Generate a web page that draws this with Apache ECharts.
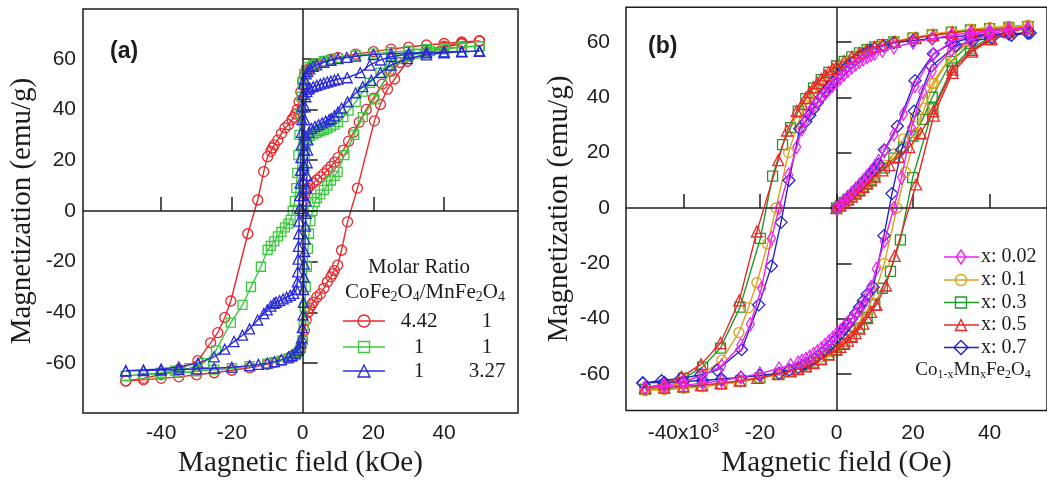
<!DOCTYPE html>
<html>
<head>
<meta charset="utf-8">
<script src="https://cdn.jsdelivr.net/npm/echarts@6.0.0/dist/echarts.min.js"></script>
<style>
html,body{margin:0;padding:0;background:#fff;}
#chart{width:1047px;height:483px;}
</style>
</head>
<body>
<div id="chart"></div>
<script>
// ---------- tick labels ----------
const ticksX = [-40, -20, 0, 20, 40];
const ticksY = [-60, -40, -20, 0, 20, 40, 60];

// ---------- panel (a): field in kOe, magnetization in emu/g ----------
const aRedInit = [[0,0],[0.3,4],[0.6,6.5],[1,8],[1.5,9],[2,9.8],[3,11],[4,12.2],[5,13.4],[6,14.7],[7,16.1],[8,17.6],[9,19.2],[10,21],[11.5,24],[13,27.5],[14.4,31],[16,35],[18,40],[20,44.5],[22.5,50],[25,55],[27.5,58.5],[30,61],[35,63.5],[40,65],[45,66],[50,67]];
const aRedDesc = [[50,67],[45,66.6],[40,66],[35,65.4],[30,64.6],[25,63.8],[20,62.8],[15,61.8],[10,60.5],[8,59.8],[6,59],[4,58],[3,57.2],[2,56.2],[1,55],[0.5,53.5],[0,51],[-0.5,47],[-1,43],[-1.5,40],[-2,38.2],[-2.5,37],[-3,36],[-4,34],[-5,32.7],[-6,30.5],[-7,28],[-8,26],[-8.5,24.8],[-9,23.5],[-9.9,21.4],[-11,15.5],[-12.7,4.3],[-15.5,-9],[-20.3,-35.5],[-22,-42],[-24,-48],[-26,-52],[-29.6,-59],[-35,-62.5],[-40,-64.5],[-45,-66],[-50,-67]];
const aRedAsc = [[-50,-67],[-45,-66.6],[-40,-66],[-35,-65.4],[-30,-64.6],[-25,-63.8],[-20,-62.8],[-15,-61.8],[-10,-60.5],[-8,-59.8],[-6,-59],[-4,-58],[-3,-57.2],[-2,-56.2],[-1,-55],[-0.5,-53.5],[0,-51],[0.5,-47],[1,-43],[1.5,-40],[2,-38.2],[2.5,-37],[3,-36],[4,-34],[5,-32.7],[6,-30.5],[7,-28],[8,-26],[8.5,-24.8],[9,-23.5],[9.9,-21.4],[11,-15.5],[12.7,-4.3],[15.5,9],[20.3,35.5],[22,42],[24,48],[26,52],[29.6,59],[35,62.5],[40,64.5],[45,66],[50,67]];

const aGreenInit = [[0,0],[0.2,8],[0.4,16],[0.6,22],[0.8,26],[1.2,28.5],[2,29.5],[3,30.2],[4,30.8],[5,31.4],[6,32],[7,32.6],[8,33.3],[9,34],[10,35],[11.5,37],[13,39.5],[15,43],[17,47],[19,50.5],[22,54.5],[25,57.5],[30,61],[35,62.8],[40,63.8],[45,64.5],[50,65]];
const aGreenDesc = [[50,65],[45,64.6],[40,64.2],[35,63.8],[30,63.2],[25,62.6],[20,62],[15,61.2],[10,60.2],[8,59.6],[6,59],[4,58.2],[3,57.6],[2,56.8],[1,55.5],[0.5,54],[0,51],[-0.3,45],[-0.6,38],[-0.9,30],[-1.2,22],[-1.5,15],[-1.8,9],[-2.2,4],[-2.8,0],[-3.4,-3.5],[-4,-5],[-5,-6.5],[-6,-8.3],[-7,-10],[-8,-12],[-9,-13.8],[-9.9,-15.4],[-11.8,-22],[-14.6,-30],[-17,-37],[-20.3,-44],[-24.5,-55],[-27.9,-60],[-32,-62],[-36,-63],[-40,-63.8],[-45,-64.5],[-50,-65]];
const aGreenAsc = [[-50,-65],[-45,-64.6],[-40,-64.2],[-35,-63.8],[-30,-63.2],[-25,-62.6],[-20,-62],[-15,-61.2],[-10,-60.2],[-8,-59.6],[-6,-59],[-4,-58.2],[-3,-57.6],[-2,-56.8],[-1,-55.5],[-0.5,-54],[0,-51],[0.3,-45],[0.6,-38],[0.9,-30],[1.2,-22],[1.5,-15],[1.8,-9],[2.2,-4],[2.8,0],[3.4,3.5],[4,5],[5,6.5],[6,8.3],[7,10],[8,12],[9,13.8],[9.9,15.4],[11.8,22],[14.6,30],[17,37],[20.3,44],[24.5,55],[27.9,60],[32,62],[36,63],[40,63.8],[45,64.5],[50,65]];

const aBlueInit = [[0,0],[0.1,6],[0.2,12],[0.3,18],[0.4,24],[0.5,30],[0.6,36],[0.7,41],[0.9,45],[1.2,47],[1.6,48],[2,48.5],[3,49],[4,49.5],[5,50],[6,50.4],[7,50.8],[8,51.2],[9,51.6],[10,52],[12.6,52.5],[16.3,54.5],[19,57.5],[22,59.5],[25,60.8],[30,61.8],[35,62.3],[40,62.6],[45,62.8],[50,63]];
const aBlueDesc = [[50,63],[45,62.9],[40,62.7],[35,62.5],[30,62.3],[25,62],[20,61.6],[15,61],[12.5,60.5],[10,60],[8,59.4],[6,58.6],[4,57.6],[3,57],[2,56],[1.4,55],[1,54],[0.5,52],[0.3,50],[0.1,46],[-0.1,41],[-0.2,36],[-0.3,31],[-0.4,26],[-0.5,21],[-0.6,16],[-0.7,11],[-0.8,6],[-0.9,1],[-1,-4],[-1.1,-9],[-1.2,-14],[-1.3,-19],[-1.4,-24],[-1.5,-28],[-1.8,-31],[-2.5,-32.5],[-3.5,-33.3],[-4.5,-34],[-5.5,-34.7],[-6.5,-35.4],[-7.5,-36],[-8.1,-36.4],[-9,-37.5],[-10,-39],[-11,-40.5],[-12.7,-43],[-15,-46.5],[-17,-49],[-19.4,-51.5],[-22,-54.5],[-25,-57.5],[-29.6,-60],[-35,-61.5],[-40,-62.3],[-45,-62.7],[-50,-63]];
const aBlueAsc = [[-50,-63],[-45,-62.9],[-40,-62.7],[-35,-62.5],[-30,-62.3],[-25,-62],[-20,-61.6],[-15,-61],[-12.5,-60.5],[-10,-60],[-8,-59.4],[-6,-58.6],[-4,-57.6],[-3,-57],[-2,-56],[-1.4,-55],[-1,-54],[-0.5,-52],[-0.3,-50],[-0.1,-46],[0.1,-41],[0.2,-36],[0.3,-31],[0.4,-26],[0.5,-21],[0.6,-16],[0.7,-11],[0.8,-6],[0.9,-1],[1,4],[1.1,9],[1.2,14],[1.3,19],[1.4,24],[1.5,28],[1.8,31],[2.5,32.5],[3.5,33.3],[4.5,34],[5.5,34.7],[6.5,35.4],[7.5,36],[8.1,36.4],[9,37.5],[10,39],[11,40.5],[12.7,43],[15,46.5],[17,49],[19.4,51.5],[22,54.5],[25,57.5],[29.6,60],[35,61.5],[40,62.3],[45,62.7],[50,63]];

// ---------- panel (b): field in 10^3 Oe, magnetization in emu/g ----------
const bMagInit = [[0,0],[1,1.3],[2,2.7],[3,4.1],[4,5.5],[5,7],[6,8.5],[7,10],[8,11.6],[9,13.3],[10,15],[11,17],[12.5,20.6],[15,26.5],[17.5,34],[20.5,44],[25.3,55.5],[30,60],[35,62.5],[40,63.8],[45,64.6],[50,65]];
const bMagDesc = [[50,65],[45,64.6],[40,64],[35,63.3],[30,62.4],[25,61.2],[20,59.8],[15,58],[12,56.8],[10,55.8],[9,55.2],[8,54.5],[7,53.7],[6,52.8],[5,51.8],[4,50.7],[3,49.5],[2,48.2],[1,46.9],[0,45.5],[-1,44.2],[-2,42.8],[-3,41.4],[-4,39.9],[-5,38.3],[-6,36.6],[-7,34.8],[-8,32],[-9,28.5],[-10.4,22],[-12.5,12],[-15,0],[-17,-11],[-19.6,-29],[-22.5,-42],[-25,-49.5],[-30,-57],[-35,-60.5],[-40,-62.8],[-45,-64.2],[-50,-65]];
const bMagAsc = [[-50,-65],[-45,-64.6],[-40,-64],[-35,-63.3],[-30,-62.4],[-25,-61.2],[-20,-59.8],[-15,-58],[-12,-56.8],[-10,-55.8],[-9,-55.2],[-8,-54.5],[-7,-53.7],[-6,-52.8],[-5,-51.8],[-4,-50.7],[-3,-49.5],[-2,-48.2],[-1,-46.9],[0,-45.5],[1,-44.2],[2,-42.8],[3,-41.4],[4,-39.9],[5,-38.3],[6,-36.6],[7,-34.8],[8,-32],[9,-28.5],[10.4,-22],[12.5,-12],[15,0],[17,11],[19.6,29],[22.5,42],[25,49.5],[30,57],[35,60.5],[40,62.8],[45,64.2],[50,65]];

const bOraInit = [[0,0],[1,1],[2,2.1],[3,3.2],[4,4.4],[5,5.6],[6,6.8],[7,8.1],[8,9.4],[9,10.7],[10,12],[12.5,15.5],[15,19.5],[17.5,25],[20.6,33],[25,45],[30,55],[35,60.5],[40,63.5],[45,65],[50,66]];
const bOraDesc = [[50,66],[45,65.7],[40,65.2],[35,64.6],[30,63.8],[25,62.8],[20,61.6],[15,60.2],[12,59],[10,58],[8,56.8],[6,55.4],[4,53.8],[2,52],[0,50],[-2,47.5],[-4,44.5],[-6,41],[-8,37],[-10,31],[-12.5,20],[-15.8,0],[-18,-13],[-20.8,-27],[-23,-36],[-25.5,-45],[-30,-55],[-35,-60],[-40,-63],[-45,-64.8],[-50,-66]];
const bOraAsc = [[-50,-66],[-45,-65.7],[-40,-65.2],[-35,-64.6],[-30,-63.8],[-25,-62.8],[-20,-61.6],[-15,-60.2],[-12,-59],[-10,-58],[-8,-56.8],[-6,-55.4],[-4,-53.8],[-2,-52],[0,-50],[2,-47.5],[4,-44.5],[6,-41],[8,-37],[10,-31],[12.5,-20],[15.8,0],[18,13],[20.8,27],[23,36],[25.5,45],[30,55],[35,60],[40,63],[45,64.8],[50,66]];

const bGrnInit = [[0,0],[1,0.9],[2,2],[3,3.1],[4,4.2],[5,5.3],[6,6.5],[7,7.7],[8,8.9],[9,10.1],[10,11.4],[12.5,14.5],[15,18],[17.5,22],[20,26],[22.5,32],[25,40],[30,53],[35,59.5],[40,63],[45,64.8],[50,65.5]];
const bGrnDesc = [[50,65.5],[45,65.2],[40,64.8],[35,64.3],[30,63.5],[25,62.5],[20,61.4],[15,60],[12,59],[10,58.2],[8,57.2],[6,56],[4,54.6],[2,53],[0,51.3],[-2,49],[-4,46.4],[-6,43.4],[-8,39.5],[-10,35],[-12,29],[-14.1,22.9],[-16.7,11.5],[-19.9,-11],[-25.2,-35.8],[-30.3,-50.6],[-35,-57.5],[-40,-61.5],[-45,-64],[-50,-65.5]];
const bGrnAsc = [[-50,-65.5],[-45,-65.2],[-40,-64.8],[-35,-64.3],[-30,-63.5],[-25,-62.5],[-20,-61.4],[-15,-60],[-12,-59],[-10,-58.2],[-8,-57.2],[-6,-56],[-4,-54.6],[-2,-53],[0,-51.3],[2,-49],[4,-46.4],[6,-43.4],[8,-39.5],[10,-35],[12,-29],[14.1,-22.9],[16.7,-11.5],[19.9,11],[25.2,35.8],[30.3,50.6],[35,57.5],[40,61.5],[45,64],[50,65.5]];

const bRedInit = [[0,0],[1,0.9],[2,1.9],[3,3],[4,4.1],[5,5.2],[6,6.4],[7,7.6],[8,8.8],[9,10],[10,11.3],[12,13.6],[13.8,15.5],[16.3,18.5],[19,22],[22,27],[25.3,35],[30.3,50],[35.4,57],[40,61],[45,63.5],[50,65]];
const bRedDesc = [[50,65],[45,64.8],[40,64.4],[35.4,64],[30.3,63.3],[25.3,62.4],[20.7,61.4],[15.3,60],[12,59],[10,58.2],[8,57.2],[6,56],[4,54.6],[2,53],[0,51.2],[-1,50.2],[-2,49.1],[-3,47.9],[-4,46.6],[-5,45.2],[-6,43.6],[-7,41.8],[-8,39.8],[-9,37.5],[-10.4,35],[-12.9,28],[-15.2,17.3],[-20.8,-8.5],[-25.4,-33.4],[-30.3,-48.8],[-35.4,-56.5],[-40.5,-61],[-45,-63.5],[-50,-65]];
const bRedAsc = [[-50,-65],[-45,-64.8],[-40,-64.4],[-35.4,-64],[-30.3,-63.3],[-25.3,-62.4],[-20.7,-61.4],[-15.3,-60],[-12,-59],[-10,-58.2],[-8,-57.2],[-6,-56],[-4,-54.6],[-2,-53],[0,-51.2],[1,-50.2],[2,-49.1],[3,-47.9],[4,-46.6],[5,-45.2],[6,-43.6],[7,-41.8],[8,-39.8],[9,-37.5],[10.4,-35],[12.9,-28],[15.2,-17.3],[20.8,8.5],[25.4,33.4],[30.3,48.8],[35.4,56.5],[40.5,61],[45,63.5],[50,65]];

const bBluInit = [[0,0],[1,1.2],[2,2.5],[3,3.8],[4,5.1],[5,6.5],[6,7.9],[7,9.3],[8,10.8],[9,12.3],[10,13.8],[11,15.8],[12.5,21],[15.9,29.5],[20.5,46],[25.3,55.7],[30,59.5],[35,61.5],[40,62.4],[45,62.9],[50,63.2]];
const bBluDesc = [[50,63.2],[45,63],[40,62.7],[35,62.3],[30,61.8],[25,61.2],[20,60.5],[15,59.7],[12.3,58.5],[10,57.6],[9,57],[8,56.3],[7,55.5],[6,54.6],[5,53.6],[4,52.5],[3,51.3],[2,50],[1,48.6],[0,47.1],[-1,45.5],[-2,43.8],[-3,42],[-4,40],[-5,38],[-6,35.8],[-7,33.5],[-8,31.2],[-9.6,28.6],[-12.4,10],[-14.5,-5.2],[-17,-21],[-20.3,-35],[-24.8,-51.2],[-31.2,-58.6],[-35.5,-60.3],[-40.6,-61.5],[-45.7,-62.4],[-50.6,-63.2]];
const bBluAsc = [[-50.6,-63.2],[-45,-63],[-40,-62.7],[-35,-62.3],[-30,-61.8],[-25,-61.2],[-20,-60.5],[-15,-59.7],[-12.3,-58.5],[-10,-57.6],[-9,-57],[-8,-56.3],[-7,-55.5],[-6,-54.6],[-5,-53.6],[-4,-52.5],[-3,-51.3],[-2,-50],[-1,-48.6],[0,-47.1],[1,-45.5],[2,-43.8],[3,-42],[4,-40],[5,-38],[6,-35.8],[7,-33.5],[8,-31.2],[9.6,-28.6],[12.4,-10],[14.5,5.2],[17,21],[20.3,35],[24.8,51.2],[31.2,58.6],[35.5,60.3],[40.6,61.5],[45.7,62.4],[50.6,63.2]];

// ---------- legend texts ----------
const aLegendRows = [['4.42', '1'], ['1', '1'], ['1', '3.27']];
const bLegendRows = ['x: 0.02', 'x: 0.1', 'x: 0.3', 'x: 0.5', 'x: 0.7'];

// ---------- styles ----------
const SANS = 'Liberation Sans, Arial, sans-serif';
const SERIF = 'Liberation Serif, Times New Roman, serif';
const INK = '#1c1c1c';
const C = {
  aRed: '#e8282c', aGreen: '#3cc83c', aBlue: '#2a2ad8',
  bMag: '#ee22ee', bOra: '#d9a21c', bGrn: '#1f9a2a', bRed: '#e82828', bBlu: '#2323cc'
};

function ser(name, parts, color, symbol, size, idx, z) {
  return {
    type: 'line', name: name, xAxisIndex: idx, yAxisIndex: idx,
    data: [].concat(...parts), symbol: symbol, symbolSize: size,
    showSymbol: true, showAllSymbol: true, z: z, animation: false,
    lineStyle: { color: color, width: 1.4 },
    itemStyle: { color: 'rgba(255,255,255,0)', borderColor: color, borderWidth: 1.3 },
    emphasis: { disabled: true }
  };
}
function zeroLines(idx) {
  return {
    type: 'line', xAxisIndex: idx, yAxisIndex: idx, data: [[0, 0]], symbol: 'none',
    lineStyle: { width: 0 }, z: 1, animation: false, silent: true,
    markLine: {
      silent: true, symbol: ['none', 'none'], label: { show: false }, animation: false,
      lineStyle: { color: INK, width: 1.5, type: 'solid' },
      emphasis: { disabled: true },
      data: [{ xAxis: 0 }, { yAxis: 0 }]
    }
  };
}
function xAx(idx, min, max, title, margin, gap, fmtRich) {
  return {
    type: 'value', gridIndex: idx, min: min, max: max,
    axisLine: { show: false }, splitLine: { show: false },
    axisTick: { show: true, inside: true, length: 14, lineStyle: { color: INK, width: 1.5 }, customValues: ticksX },
    axisLabel: {
      customValues: ticksX, margin: margin, color: INK, fontFamily: SANS, fontSize: 21,
      formatter: fmtRich ? function (v) { return v === -40 ? '{n|-40x10}{p|3}' : '{n|' + v + '}'; } : function (v) { return String(v); },
      rich: { n: { fontFamily: SANS, fontSize: 21, color: INK, lineHeight: 24 }, p: { fontFamily: SANS, fontSize: 13, color: INK, lineHeight: 12, verticalAlign: 'top' } }
    },
    name: title, nameLocation: 'middle', nameGap: gap,
    nameTextStyle: { fontFamily: SERIF, fontSize: 29, color: INK }
  };
}
function yAx(idx, min, max, margin, gap) {
  return {
    type: 'value', gridIndex: idx, min: min, max: max,
    axisLine: { show: false }, splitLine: { show: false },
    axisTick: { show: true, inside: true, length: 15, lineStyle: { color: INK, width: 1.5 }, customValues: ticksY },
    axisLabel: { customValues: ticksY, margin: margin, color: INK, fontFamily: SANS, fontSize: 21 },
    name: 'Magnetization (emu/g)', nameLocation: 'middle', nameGap: gap,
    nameTextStyle: { fontFamily: SERIF, fontSize: 29, color: INK }
  };
}

// ---------- legend graphics ----------
function markerShape(kind, cx, cy, color, s) {
  const st = { stroke: color, fill: 'none', lineWidth: 1.4 };
  if (kind === 'circle') return { type: 'circle', shape: { cx: cx, cy: cy, r: s / 2 }, style: st };
  if (kind === 'rect') return { type: 'rect', shape: { x: cx - s / 2, y: cy - s / 2, width: s, height: s }, style: st };
  if (kind === 'triangle') return { type: 'polygon', shape: { points: [[cx, cy - s / 2], [cx + s / 2, cy + s / 2], [cx - s / 2, cy + s / 2]] }, style: st };
  if (kind === 'diamond') return { type: 'polygon', shape: { points: [[cx, cy - s / 2], [cx + s / 2, cy], [cx, cy + s / 2], [cx - s / 2, cy]] }, style: st };
  if (kind === 'thin') return { type: 'polygon', shape: { points: [[cx, cy - s / 2], [cx + s / 3, cy], [cx, cy + s / 2], [cx - s / 3, cy]] }, style: st };
}
const g = [];
function txt(t, x, y, font, align, rich) {
  const o = { type: 'text', x: x, y: y, silent: true, style: { text: t, font: font, fill: INK, align: align || 'center', verticalAlign: 'middle' } };
  if (rich) o.style.rich = rich;
  return o;
}
g.push(txt('(a)', 110, 52, 'bold 23px ' + SANS, 'left'));
g.push(txt('(b)', 648, 47, 'bold 23px ' + SANS, 'left'));
g.push(txt('Molar Ratio', 419, 267, '21px ' + SERIF));
const subA = { s: { fontFamily: SERIF, fontSize: 14, fill: INK, color: INK, lineHeight: 12, verticalAlign: 'bottom' } };
g.push({ type: 'text', x: 425, y: 292, silent: true, style: { text: 'CoFe{s|2}O{s|4}/MnFe{s|2}O{s|4}', font: '21px ' + SERIF, fill: INK, align: 'center', verticalAlign: 'middle', lineHeight: 24, rich: subA } });
const aCols = [C.aRed, C.aGreen, C.aBlue], aSym = ['circle', 'rect', 'triangle'], aRowY = [321, 347, 371];
aLegendRows.forEach(function (r, i) {
  g.push({ type: 'line', shape: { x1: 343, y1: aRowY[i], x2: 385, y2: aRowY[i] }, style: { stroke: aCols[i], lineWidth: 1.5 } });
  g.push(markerShape(aSym[i], 364, aRowY[i], aCols[i], i === 1 ? 11 : 12));
  g.push(txt(r[0], 419, aRowY[i], '21px ' + SERIF));
  g.push(txt(r[1], 487, aRowY[i], '21px ' + SERIF));
});
const bCols = [C.bMag, C.bOra, C.bGrn, C.bRed, C.bBlu], bSym = ['thin', 'circle', 'rect', 'triangle', 'diamond'], bRowY = [257, 280, 302.5, 325, 347.5];
bLegendRows.forEach(function (r, i) {
  g.push({ type: 'line', shape: { x1: 944, y1: bRowY[i], x2: 979, y2: bRowY[i] }, style: { stroke: bCols[i], lineWidth: 1.5 } });
  g.push(markerShape(bSym[i], 961, bRowY[i], bCols[i], i === 0 ? 14 : (i === 4 ? 14 : 11)));
  g.push(txt(r, 981, bRowY[i], '20px ' + SERIF, 'left'));
});
const subB = { s: { fontFamily: SERIF, fontSize: 12, fill: INK, color: INK, lineHeight: 10, verticalAlign: 'bottom' } };
g.push({ type: 'text', x: 973, y: 370, silent: true, style: { text: 'Co{s|1-x}Mn{s|x}Fe{s|2}O{s|4}', font: '19px ' + SERIF, fill: INK, align: 'center', verticalAlign: 'middle', lineHeight: 22, rich: subB } });

const option = {
  backgroundColor: '#ffffff',
  animation: false,
  grid: [
    { left: 83, top: 9, width: 435, height: 404.3, show: true, borderColor: INK, borderWidth: 1.5, backgroundColor: 'transparent' },
    { left: 626, top: 7.3, width: 431, height: 409.4, show: true, borderColor: INK, borderWidth: 1.5, backgroundColor: 'transparent' }
  ],
  xAxis: [
    xAx(0, -62.1, 60.9, 'Magnetic field (kOe)', 10, 33, false),
    xAx(1, -55, 55, 'Magnetic field (Oe)', 11, 29, true)
  ],
  yAxis: [
    yAx(0, -79.7, 79.6, 7, 46),
    yAx(1, -73.2, 72.5, 16, 52)
  ],
  series: [
    zeroLines(0), zeroLines(1),
    ser('4.42 : 1', [aRedInit, aRedDesc, aRedAsc], C.aRed, 'circle', 10, 0, 2),
    ser('1 : 1', [aGreenInit, aGreenDesc, aGreenAsc], C.aGreen, 'rect', 9, 0, 3),
    ser('1 : 3.27', [aBlueInit, aBlueDesc, aBlueAsc], C.aBlue, 'triangle', 10, 0, 4),
    ser('x: 0.3', [bGrnInit, bGrnDesc, bGrnAsc], C.bGrn, 'rect', 10, 1, 2),
    ser('x: 0.1', [bOraInit, bOraDesc, bOraAsc], C.bOra, 'circle', 10, 1, 3),
    ser('x: 0.7', [bBluInit, bBluDesc, bBluAsc], C.bBlu, 'diamond', 12, 1, 4),
    ser('x: 0.5', [bRedInit, bRedDesc, bRedAsc], C.bRed, 'triangle', 11, 1, 5),
    ser('x: 0.02', [bMagInit, bMagDesc, bMagAsc], C.bMag, 'diamond', [8, 13], 1, 6)
  ],
  graphic: g
};
const chart = echarts.init(document.getElementById('chart'), null, { renderer: 'canvas' });
chart.setOption(option);
</script>
</body>
</html>
